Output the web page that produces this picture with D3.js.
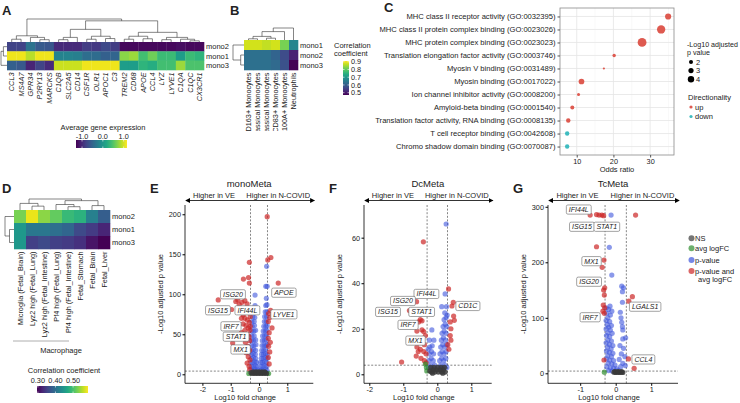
<!DOCTYPE html>
<html><head><meta charset="utf-8">
<script src="https://cdn.jsdelivr.net/npm/d3@7/dist/d3.min.js"></script>
<style>
body{margin:0;background:#fff;}
text{font-family:"Liberation Sans",Arial,sans-serif;fill:#222;}
</style></head><body><div class="canvas"></div>
<script>
// ---------- data ----------
// A: average gene expression heatmap
const genesA = ['CCL3','MS4A7','GPR34','P2RY13','MARCKS','C1QB','SLC2A5','CD14','CSF1R','OLR1','APOC1','C3','TREM2','CD68','APOE','CCL4','LYZ','LYVE1','C1QA','C1QC','CX3CR1'];
const rowsA = ['mono2','mono1','mono3'];
const exprMono2 = [-0.8,-0.8,-0.36,-0.6,-0.63,-1.0,-1.0,-1.0,-0.85,-0.88,-0.75,-0.85,-1.24,-1.24,-1.24,-1.24,-1.24,-1.24,-1.2,-1.24,-1.24];
const exprMono1 = [1.1,1.1,0.9,1.1,1.1,-0.19,-0.19,-0.24,-0.41,-0.43,-0.55,-0.5,0.72,0.79,0.42,0.62,0.38,0.38,0.06,0.38,0.3];
const exprMono3 = [-0.55,-0.62,-1.05,-0.8,-1.0,0.96,0.96,0.96,1.1,1.1,1.1,1.1,0.06,0.06,0.3,0.23,0.42,0.42,0.79,0.47,0.47];
const colTreeA = [1.0,
  [0.27, [0.12,'CCL3','MS4A7'], [0.2,'GPR34',[0.1,'P2RY13','MARCKS']]],
  [0.92,
    [0.55, [0.2,[0.1,'C1QB','SLC2A5'],'CD14'], [0.25,[0.12,'CSF1R','OLR1'],[0.15,'APOC1','C3']]],
    [0.42, [0.25,[0.12,'TREM2','CD68'],[0.14,'APOE','CCL4']], [0.2,[0.1,'LYZ','LYVE1'],[0.12,'C1QA',[0.05,'C1QC','CX3CR1']]]]]];
const rowTreeA = [1.0, [0.6,'mono2','mono1'], 'mono3'];
const ticksA = [-1.0, 0.0, 1.0];

// B: correlation with reference cell types
const cellTypesB = ['CD163+ Monocytes','Classical Monocytes','Non-classical Monocytes','HLA-DR+ CD83+ Monocytes','HLA-DR- S100A+ Monocytes','Neutrophils'];
const rowsB = ['mono1','mono2','mono3'];
const corrBmono1 = [0.88,0.88,0.87,0.88,0.82,0.67];
const corrBmono2 = [0.63,0.63,0.63,0.61,0.57,0.51];
const corrBmono3 = [0.63,0.63,0.63,0.62,0.58,0.47];
const colTreeB = [1.0, [0.7, [0.3,[0.1,'CD163+ Monocytes','Classical Monocytes'],[0.15,'Non-classical Monocytes','HLA-DR+ CD83+ Monocytes']],'HLA-DR- S100A+ Monocytes'], 'Neutrophils'];
const rowTreeB = [1.0, 'mono1', [0.3,'mono2','mono3']];
const ticksB = [0.5,0.6,0.7,0.8,0.9];

// C: GO enrichment
const goTerms = ['MHC class II receptor activity (GO:0032395)','MHC class II protein complex binding (GO:0023026)','MHC protein complex binding (GO:0023023)','Translation elongation factor activity (GO:0003746)','Myosin V binding (GO:0031489)','Myosin binding (GO:0017022)','Ion channel inhibitor activity (GO:0008200)','Amyloid-beta binding (GO:0001540)','Translation factor activity, RNA binding (GO:0008135)','T cell receptor binding (GO:0042608)','Chromo shadow domain binding (GO:0070087)'];
const oddsRatio = [34.9,33.0,27.8,20.2,17.4,11.3,10.5,8.8,7.7,7.4,7.4];
const negLogP = [3.8,5.6,6.0,1.5,0.5,3.4,1.2,2.0,2.4,2.3,2.3];
const direction = ['up','up','up','up','up','up','up','up','up','down','down'];
const oddsTicks = [10,20,30];
const sizeLegend = [2,3,4];

// D: correlation with fetal macrophages
const fetalTypes = ['Microglia (Fetal_Brain)','Lyz2 high (Fetal_Lung)','Lyz2 high (Fetal_Intestine)','Pf4 high (Fetal_Lung)','Pf4 high (Fetal_Intestine)','Fetal_Stomach','Fetal_Brain','Fetal_Liver'];
const rowsD = ['mono2','mono1','mono3'];
const corrDmono2 = [0.525,0.575,0.535,0.515,0.49,0.48,0.42,0.38];
const corrDmono1 = [0.45,0.41,0.41,0.40,0.39,0.36,0.345,0.325];
const corrDmono3 = [0.45,0.35,0.36,0.35,0.345,0.335,0.31,0.295];
const colTreeD = [1.0, [0.6,'Microglia (Fetal_Brain)',[0.35,'Lyz2 high (Fetal_Lung)','Lyz2 high (Fetal_Intestine)']],
  [0.85, [0.5,'Pf4 high (Fetal_Lung)',[0.3,'Pf4 high (Fetal_Intestine)','Fetal_Stomach']],[0.4,'Fetal_Brain','Fetal_Liver']]];
const rowTreeD = [1.0, 'mono2', [0.5,'mono1','mono3']];
const ticksD = [0.30,0.40,0.50];

// E-G: volcano plots  [log10 fold change, -log10 adjusted p]
const redE = [[0.29,197],[0.31,143],[0.42,146],[-0.34,140],[0.68,114],[-0.55,119],[-0.37,121],[-0.34,114],[-1.44,93],[-0.97,81],[-0.82,91],[-0.75,93],[-0.7,87],[-0.6,90],[-0.5,92],[-0.42,88],[-0.38,80],[-0.46,77],[-0.56,74],[-0.62,70],[-0.5,70],[-0.41,68],[-0.34,65],[-0.56,63],[-0.46,61],[-0.38,58],[-0.32,55],[-0.5,55],[-0.62,52],[-0.42,50],[-0.35,47],[-0.33,42],[-0.93,39],[-0.48,40],[-0.4,35],[-0.33,30],[-0.45,27],[-0.38,22],[-0.32,18],[-0.42,14],[-0.35,10],[-0.33,6],[0.34,76],[0.38,71],[0.33,66],[0.46,58],[0.36,52],[0.33,45],[0.4,40],[0.34,35],[0.38,28],[0.33,21],[0.36,13],[0.41,80],[-0.31,72],[-0.31,60]];
const blueE = [[-0.28,6],[-0.22,5],[-0.16,6],[-0.1,5],[-0.05,6],[-0.27,10],[-0.2,10],[-0.13,11],[-0.07,10],[-0.28,15],[-0.21,15],[-0.14,16],[-0.08,15],[-0.26,20],[-0.19,21],[-0.12,20],[-0.28,25],[-0.2,26],[-0.13,25],[-0.27,30],[-0.19,31],[-0.12,30],[-0.26,36],[-0.18,36],[-0.11,37],[-0.27,42],[-0.19,42],[-0.12,43],[-0.25,48],[-0.17,48],[-0.26,54],[-0.18,54],[-0.12,55],[-0.24,60],[-0.16,61],[-0.25,66],[-0.17,66],[-0.22,72],[-0.15,71],[-0.2,78],[-0.14,86],[-0.14,99],
  [0.04,5],[0.1,6],[0.16,5],[0.22,6],[0.28,5],[0.07,10],[0.14,10],[0.21,11],[0.28,10],[0.06,15],[0.12,15],[0.19,16],[0.26,15],[0.08,20],[0.15,20],[0.22,21],[0.29,20],[0.09,25],[0.16,25],[0.23,26],[0.29,25],[0.1,30],[0.17,30],[0.24,31],[0.11,36],[0.18,36],[0.25,36],[0.29,37],[0.12,42],[0.19,42],[0.26,43],[0.13,48],[0.2,48],[0.27,49],[0.15,54],[0.22,54],[0.28,55],[0.17,60],[0.24,60],[0.29,61],[0.19,66],[0.26,66],[0.2,72],[0.27,72],[0.22,78],[0.28,78],[0.24,86],[0.28,87],[0.26,95],[0.24,110],[0.29,110],[0.27,135]];
const grayE = [[-0.28,2],[-0.23,1],[-0.18,2],[-0.13,1],[-0.08,2],[-0.03,1],[0.02,2],[0.07,1],[0.12,2],[0.17,1],[0.22,2],[0.27,1],[-0.2,3],[-0.1,3],[0,3],[0.1,3],[0.2,3]];
const greenE = [[-0.36,1],[0.34,1]];
const labelsE = [['ISG20',-0.92,100],['ISG15',-1.45,80],['IFI44L',-0.41,80],['IRF7',-0.99,60],['STAT1',-0.81,47],['MX1',-0.65,31],['APOE',0.88,102],['LYVE1',0.88,75]];

const redF = [[-0.41,58.2],[-0.61,31.9],[-0.82,28],[-0.55,23],[-0.5,24],[-0.45,23.5],[-0.6,19],[-0.45,19.5],[-0.4,18.8],[-0.35,17],[-0.55,15],[-0.45,14],[-0.38,13],[-0.6,12],[-0.5,11],[-0.4,10],[-0.33,9],[-0.62,8],[-0.48,7],[-0.38,6],[-0.33,5],[-0.56,10],[-1.05,5.4],[0.33,37.5],[0.47,31.6],[0.43,30],[0.48,25.6],[0.5,23.7],[0.38,23],[0.4,20],[0.38,17],[0.4,15],[0.31,13],[0.34,11]];
const blueF = [[-0.26,3],[-0.2,4],[-0.14,3],[-0.08,4],[-0.25,6],[-0.18,7],[-0.12,6],[-0.24,9],[-0.17,10],[-0.11,9],[-0.22,12],[-0.15,12.5],[-0.23,15],[-0.1,15],[-0.16,19.5],[-0.27,11],
  [0.05,3],[0.1,4],[0.16,3],[0.22,4],[0.28,3],[0.07,6],[0.13,7],[0.19,6],[0.25,7],[0.08,9],[0.14,10],[0.2,9],[0.26,10],[0.1,12],[0.16,13],[0.22,12],[0.28,13],[0.12,15],[0.18,16],[0.24,15],[0.14,18],[0.2,19],[0.26,18],[0.17,21],[0.23,22],[0.28,21],[0.2,24],[0.26,25],[0.29,26],[0.22,27],[0.13,29.7],[0.27,29.7],[0.23,35.3],[0.26,66]];
const grayF = [[-0.22,1.5],[-0.17,1],[-0.12,2],[-0.07,1],[-0.02,2],[0.03,1],[0.08,2],[0.13,1],[0.18,2],[0.23,1],[-0.19,3],[-0.09,3],[0.01,3],[0.11,3],[0.21,3],[-0.14,0.5],[0.16,0.5]];
const greenF = [[-0.32,3],[-0.35,4.5],[-0.31,1.5]];
const labelsF = [['IFI44L',-0.32,35.3],['ISG20',-1.01,32.2],['ISG15',-1.45,27.4],['STAT1',-0.46,27.4],['CD1C',0.9,30],['IRF7',-0.86,21.7],['MX1',-0.64,14.8]];

const redG = [[-0.72,285],[-0.54,286],[-0.47,285],[-0.39,285],[-0.34,284],[0.56,285],[-0.54,228],[-0.33,204],[-0.38,191],[-0.31,154],[-0.34,150],[-0.32,141],[-0.35,123],[-0.31,118],[-0.36,112],[-0.32,108],[-0.33,24],[0.47,138],[0.37,130],[0.36,26],[0.52,9]];
const blueG = [[-0.13,285],[-0.18,227],[-0.11,177],[0.17,157],[0.22,154],[0.19,147],[0.19,128],[-0.16,121],[-0.11,112],
  [-0.27,118],[-0.2,115],[-0.25,108],[-0.15,105],[-0.22,100],[-0.27,95],[-0.17,93],[-0.24,88],[-0.12,86],[-0.2,83],[-0.27,80],[-0.15,78],[-0.22,73],[-0.1,72],[-0.26,68],[-0.17,66],[-0.22,60],[-0.12,58],[-0.27,55],[-0.18,52],[-0.08,50],[-0.23,47],[-0.13,44],[-0.26,40],[-0.18,38],[-0.08,36],[-0.22,32],[-0.12,30],[-0.26,26],[-0.17,24],[-0.06,23],[-0.21,18],[-0.11,17],[-0.02,15],[-0.25,12],[-0.15,10],[-0.06,9],[0.03,8],[-0.2,5],[-0.1,4],[0.0,4],[0.08,5],
  [0.13,110],[0.15,100],[0.17,92],[0.19,84],[0.2,78],[0.2,62],[0.28,64],[0.12,50],[0.22,45],[0.16,35],[0.26,30],[0.1,25],[0.2,18],[0.14,12],[0.27,14]];
const grayG = [[-0.05,2],[0,1.5],[0.05,2],[0.1,1.5],[0.15,2],[0.2,1.5],[-0.02,3],[0.08,3],[0.17,3]];
const greenG = [[-0.32,2]];
const labelsG = [['IFI44L',-1.04,295],['ISG15',-0.95,264],['STAT1',-0.25,264],['MX1',-0.68,202],['ISG20',-0.75,165],['IRF7',-0.72,101],['LGALS1',0.83,120],['CCL4',0.78,25]];
const volcanoLegend = ['NS','avg logFC','p-value','p-value and avg logFC'];

// ---------- drawing ----------
const svg = d3.select('.canvas').append('svg')
    .attr('width',740).attr('height',403)
    .style('background','#fff');
const defs = svg.append('defs');

const letter = (t,x,y) => svg.append('text').attr('x',x).attr('y',y)
    .attr('font-size',13).attr('font-weight','bold').attr('fill','#000').text(t);

// dendrogram with elbow links; tree = [height, left, right], leaf = string
function dendro(g, tree, leafPos, hPos, vertical){
  const seg = (x1,y1,x2,y2) => g.append('line').attr('x1',x1).attr('y1',y1).attr('x2',x2).attr('y2',y2)
      .attr('stroke','#333').attr('stroke-width',0.6);
  function rec(n){
    if (typeof n === 'string') return {p: leafPos(n), h: 0};
    const a = rec(n[1]), b = rec(n[2]);
    const hp = hPos(n[0]);
    if (vertical){
      seg(a.p,hPos(a.h),a.p,hp); seg(b.p,hPos(b.h),b.p,hp); seg(a.p,hp,b.p,hp);
    } else {
      seg(hPos(a.h),a.p,hp,a.p); seg(hPos(b.h),b.p,hp,b.p); seg(hp,a.p,hp,b.p);
    }
    return {p:(a.p+b.p)/2, h:n[0]};
  }
  rec(tree);
}

function heatmap(c){
  const g = svg.append('g');
  const x = d3.scaleBand().domain(c.cols).range([c.x0,c.x1]);
  const y = d3.scaleBand().domain(c.rows).range([c.y0,c.y1]);
  c.rows.forEach((r,i) => {
    g.selectAll(null).data(c.values[i]).enter().append('rect')
      .attr('x',(d,j) => x(c.cols[j])).attr('y',y(r))
      .attr('width',x.bandwidth()+0.3).attr('height',y.bandwidth()+0.3)
      .attr('fill',d => c.color(d));
  });
  g.selectAll(null).data(c.rows).enter().append('text')
    .attr('x',c.x1+2).attr('y',d => y(d)+y.bandwidth()/2).attr('dy','0.35em')
    .attr('font-size',7.5).text(d => d);
  let lg = g.append('g');
  if (c.clip){
    defs.append('clipPath').attr('id',c.clip.id).append('rect')
      .attr('x',c.x0-20).attr('y',c.y1).attr('width',c.x1-c.x0+40).attr('height',c.clip.bottom-c.y1);
    lg.attr('clip-path',`url(#${c.clip.id})`);
  }
  lg.selectAll(null).data(c.cols).enter().append('text')
    .attr('transform',d => `translate(${x(d)+x.bandwidth()/2+2.6},${c.y1+2.5}) rotate(-90)`)
    .attr('text-anchor','end').attr('font-size',7.3)
    .attr('font-style',c.italic ? 'italic' : null).text(d => d);
  dendro(g, c.colTree, d => x(d)+x.bandwidth()/2, d3.scaleLinear([0,1],[c.y0,c.colTop]), true);
  dendro(g, c.rowTree, d => y(d)+y.bandwidth()/2, d3.scaleLinear([0,1],[c.x0,c.rowLeft]), false);
  return {x,y};
}

// colour bar with white tick marks
function colorbar(id, color, ticks, x0, y0, w, h, horizontal){
  const dom = color.domain();
  const grad = defs.append('linearGradient').attr('id',id)
    .attr('x1','0').attr('y1',horizontal ? '0' : '1').attr('x2',horizontal ? '1' : '0').attr('y2','0');
  d3.range(0,1.0001,0.1).forEach(t => grad.append('stop').attr('offset',t)
    .attr('stop-color',color(dom[0]+t*(dom[1]-dom[0]))));
  svg.append('rect').attr('x',x0).attr('y',y0).attr('width',w).attr('height',h).attr('fill',`url(#${id})`);
  const s = horizontal ? d3.scaleLinear(dom,[x0,x0+w]) : d3.scaleLinear(dom,[y0+h,y0]);
  ticks.forEach(t => {
    const p = s(t);
    if (horizontal){
      svg.append('line').attr('x1',p).attr('x2',p).attr('y1',y0).attr('y2',y0+1.5).attr('stroke','#fff').attr('stroke-width',0.6);
      svg.append('line').attr('x1',p).attr('x2',p).attr('y1',y0+h-1.5).attr('y2',y0+h).attr('stroke','#fff').attr('stroke-width',0.6);
    } else {
      svg.append('line').attr('y1',p).attr('y2',p).attr('x1',x0).attr('x2',x0+1.5).attr('stroke','#fff').attr('stroke-width',0.6);
      svg.append('line').attr('y1',p).attr('y2',p).attr('x1',x0+w-1.5).attr('x2',x0+w).attr('stroke','#fff').attr('stroke-width',0.6);
    }
  });
  return s;
}

// ----- panel A -----
letter('A',2,15);
const colorA = d3.scaleSequential(d3.interpolateViridis).domain([-1.29,1.16]);
heatmap({cols:genesA, rows:rowsA, values:[exprMono2,exprMono1,exprMono3], color:colorA,
  x0:7, x1:204, y0:42, y1:70, colTree:colTreeA, colTop:19, rowTree:rowTreeA, rowLeft:1, italic:true});
svg.append('text').attr('x',103).attr('y',130).attr('text-anchor','middle').attr('font-size',7.5).text('Average gene expression');
const sA = colorbar('gA', colorA, ticksA, 76, 140, 51, 8, true);
svg.selectAll(null).data(ticksA).enter().append('text').attr('x',d => sA(d)).attr('y',138.5)
  .attr('text-anchor','middle').attr('font-size',7.3).text(d => d.toFixed(1));

// ----- panel B -----
letter('B',230,15);
const colorB = d3.scaleSequential(d3.interpolateViridis).domain([0.47,0.91]);
heatmap({cols:cellTypesB, rows:rowsB, values:[corrBmono1,corrBmono2,corrBmono3], color:colorB,
  x0:244, x1:298, y0:40, y1:70, colTree:colTreeB, colTop:28, rowTree:rowTreeB, rowLeft:233,
  clip:{id:'clipB', bottom:131}});
svg.append('text').attr('x',334).attr('y',48).attr('font-size',7.5).text('Correlation');
svg.append('text').attr('x',334).attr('y',56).attr('font-size',7.5).text('coefficient');
const sB = colorbar('gB', colorB, ticksB, 343, 61, 6, 34, false);
svg.selectAll(null).data(ticksB).enter().append('text').attr('x',351).attr('y',d => sB(d)).attr('dy','0.35em')
  .attr('font-size',7.3).text(d => d.toFixed(1));

// ----- panel C -----
letter('C',384,12);
const cL = 560, cR = 674, cT = 8, cB = 155;
const xC = d3.scaleLinear([5.45,36.5],[cL,cR]);
const yC = d3.scalePoint().domain(goTerms).range([cT,cB]).padding(0.65);
const rC = d3.scaleLinear([0,6],[0.8,4.4]);
const dirColor = {up:'#de5a50', down:'#3fbcc0'};
const gC = svg.append('g');
[15,25,35].forEach(v => gC.append('line').attr('x1',xC(v)).attr('x2',xC(v)).attr('y1',cT).attr('y2',cB).attr('stroke','#f2f2f2').attr('stroke-width',0.5));
oddsTicks.forEach(v => gC.append('line').attr('x1',xC(v)).attr('x2',xC(v)).attr('y1',cT).attr('y2',cB).attr('stroke','#e4e4e4').attr('stroke-width',0.8));
goTerms.forEach(t => gC.append('line').attr('x1',cL).attr('x2',cR).attr('y1',yC(t)).attr('y2',yC(t)).attr('stroke','#e4e4e4').attr('stroke-width',0.8));
gC.selectAll(null).data(goTerms).enter().append('circle')
  .attr('cx',(d,i) => xC(oddsRatio[i])).attr('cy',d => yC(d)).attr('r',(d,i) => rC(negLogP[i]))
  .attr('fill',(d,i) => dirColor[direction[i]]);
gC.append('rect').attr('x',cL).attr('y',cT).attr('width',cR-cL).attr('height',cB-cT).attr('fill','none').attr('stroke','#8a8a8a').attr('stroke-width',0.8);
gC.append('g').attr('transform',`translate(${cL},0)`)
  .call(d3.axisLeft(yC).tickSize(2.5).tickPadding(2))
  .call(g => g.select('.domain').remove())
  .call(g => g.selectAll('text').attr('font-size',7.6).attr('fill','#222'))
  .call(g => g.selectAll('line').attr('stroke','#555'));
gC.append('g').attr('transform',`translate(0,${cB})`)
  .call(d3.axisBottom(xC).tickValues(oddsTicks).tickSize(2.5).tickPadding(1.5))
  .call(g => g.select('.domain').remove())
  .call(g => g.selectAll('text').attr('font-size',7.3).attr('fill','#333'))
  .call(g => g.selectAll('line').attr('stroke','#555'));
svg.append('text').attr('x',(cL+cR)/2).attr('y',172).attr('text-anchor','middle').attr('font-size',7.5).text('Odds ratio');
svg.append('text').attr('x',687).attr('y',47).attr('font-size',7.1).text('-Log10 adjusted');
svg.append('text').attr('x',687).attr('y',55).attr('font-size',7.1).text('p value');
sizeLegend.forEach((v,i) => {
  svg.append('circle').attr('cx',691).attr('cy',62+i*8.6).attr('r',rC(v)).attr('fill','#000');
  svg.append('text').attr('x',696).attr('y',62+i*8.6).attr('dy','0.35em').attr('font-size',7.5).text(v);
});
svg.append('text').attr('x',688).attr('y',100).attr('font-size',7.5).text('Directionality');
['up','down'].forEach((d,i) => {
  svg.append('circle').attr('cx',691).attr('cy',107+i*9.5).attr('r',1.6).attr('fill',dirColor[d]);
  svg.append('text').attr('x',695).attr('y',107+i*9.5).attr('dy','0.35em').attr('font-size',7.5).text(d);
});

// ----- panel D -----
letter('D',2,193);
const colorD = d3.scaleSequential(d3.interpolateViridis).domain([0.295,0.585]);
heatmap({cols:fetalTypes, rows:rowsD, values:[corrDmono2,corrDmono1,corrDmono3], color:colorD,
  x0:14, x1:110, y0:210, y1:249, colTree:colTreeD, colTop:199, rowTree:rowTreeD, rowLeft:5});
svg.append('line').attr('x1',13).attr('x2',69).attr('y1',341).attr('y2',341).attr('stroke','#999').attr('stroke-width',0.8);
svg.append('text').attr('x',61).attr('y',353).attr('text-anchor','middle').attr('font-size',7.5).text('Macrophage');
svg.append('text').attr('x',64).attr('y',373).attr('text-anchor','middle').attr('font-size',7.5).text('Correlation coefficient');
const sD = colorbar('gD', colorD, ticksD, 37, 386, 51, 7, true);
svg.selectAll(null).data(ticksD).enter().append('text').attr('x',d => sD(d)).attr('y',383)
  .attr('text-anchor','middle').attr('font-size',7.3).text(d => d.toFixed(2));

// ----- volcano plots -----
const volColors = {NS:'#3a3a3a', 'avg logFC':'#2f8f2f', 'p-value':'#3d55dc', 'p-value and avg logFC':'#cc2626'};
defs.append('marker').attr('id','arr').attr('viewBox','0 0 6 6').attr('refX',5).attr('refY',3)
  .attr('markerWidth',5).attr('markerHeight',5).attr('markerUnits','userSpaceOnUse')
  .attr('orient','auto-start-reverse').append('path').attr('d','M0,0L6,3L0,6Z').attr('fill','#000');

function volcano(c){
  const top = 205, bot = 383.3;
  const x = d3.scaleLinear(c.xDomain,[c.left,c.right]);
  const y = d3.scaleLinear(c.yDomain,[bot,top]);
  const g = svg.append('g');
  letter(c.letter, c.left-35, 193);
  g.append('text').attr('x',(c.left+c.right)/2).attr('y',187).attr('text-anchor','middle').attr('font-size',9.5).text(c.title);
  g.append('line').attr('x1',c.left+1).attr('x2',c.right+1).attr('y1',200.5).attr('y2',200.5)
    .attr('stroke','#000').attr('stroke-width',0.8).attr('marker-start','url(#arr)').attr('marker-end','url(#arr)');
  const w = c.right-c.left;
  g.append('text').attr('x',c.left+w*0.25-3).attr('y',198).attr('text-anchor','middle').attr('font-size',7.5).text('Higher in VE');
  g.append('text').attr('x',c.left+w*0.75-3).attr('y',198).attr('text-anchor','middle').attr('font-size',7.5).text('Higher in N-COVID');
  // thresholds
  [-0.3,0.3].forEach(v => g.append('line').attr('x1',x(v)).attr('x2',x(v)).attr('y1',top).attr('y2',bot)
    .attr('stroke','#333').attr('stroke-width',0.6).attr('stroke-dasharray','2,1.6'));
  g.append('line').attr('x1',c.left).attr('x2',c.right).attr('y1',y(4)).attr('y2',y(4))
    .attr('stroke','#333').attr('stroke-width',0.6).attr('stroke-dasharray','2,1.6');
  const pts = (data,key,op) => g.selectAll(null).data(data).enter().append('circle')
    .attr('cx',d => x(d[0])).attr('cy',d => y(d[1])).attr('r',2.6)
    .attr('fill',volColors[key]).attr('fill-opacity',op);
  pts(c.blue,'p-value',0.6);
  pts(c.red,'p-value and avg logFC',0.7);
  pts(c.green,'avg logFC',0.7);
  pts(c.gray,'NS',0.85);
  // axes
  g.append('g').attr('transform',`translate(${c.left},0)`)
    .call(d3.axisLeft(y).tickValues(c.yTicks).tickFormat(d => String(d)).tickSize(2.5).tickPadding(1.5))
    .call(a => a.select('.domain').attr('d',`M0,${top}V${bot}`).attr('stroke','#000').attr('stroke-width',0.8))
    .call(a => a.selectAll('text').attr('font-size',7.3).attr('fill','#333'));
  g.append('g').attr('transform',`translate(0,${bot})`)
    .call(d3.axisBottom(x).tickValues(c.xTicks).tickFormat(d => String(d)).tickSize(2.5).tickPadding(1.5))
    .call(a => a.select('.domain').attr('d',`M${c.left},0H${c.right}`).attr('stroke','#000').attr('stroke-width',0.8))
    .call(a => a.selectAll('text').attr('font-size',7.3).attr('fill','#333'));
  g.append('text').attr('x',(c.left+c.right)/2-4).attr('y',400).attr('text-anchor','middle').attr('font-size',7.5).text('Log10 fold change');
  g.append('text').attr('transform',`translate(${c.left-22},294) rotate(-90)`).attr('text-anchor','middle')
    .attr('font-size',7.5).text('-Log10 adjusted p value');
  // gene labels
  c.labels.forEach(l => {
    const lg = g.append('g').attr('transform',`translate(${x(l[1])},${y(l[2])})`);
    const t = lg.append('text').attr('text-anchor','middle').attr('dy','0.35em')
      .attr('font-size',7).attr('font-style','italic').text(l[0]);
    const tw = t.node().getComputedTextLength();
    lg.insert('rect','text').attr('x',-tw/2-2.5).attr('y',-4.6).attr('width',tw+5).attr('height',9.2)
      .attr('rx',1.5).attr('fill','#fff').attr('stroke','#666').attr('stroke-width',0.6);
  });
}

volcano({letter:'E', title:'monoMeta', left:185, right:313.3, xDomain:[-2.615,1.919], yDomain:[-11.25,211.6],
  xTicks:[-2,-1,0,1], yTicks:[0,50,100,150,200], red:redE, blue:blueE, gray:grayE, green:greenE, labels:labelsE});
volcano({letter:'F', title:'DcMeta', left:364, right:491.7, xDomain:[-2.156,1.6], yDomain:[-3.95,74.35],
  xTicks:[-2,-1,0,1], yTicks:[0,20,40,60], red:redF, blue:blueF, gray:grayF, green:greenF, labels:labelsF});
volcano({letter:'G', title:'TcMeta', left:548, right:678, xDomain:[-1.907,1.755], yDomain:[-18,303.2],
  xTicks:[-1,0,1], yTicks:[0,100,200,300], red:redG, blue:blueG, gray:grayG, green:greenG, labels:labelsG});

// volcano legend
const lgV = svg.append('g');
[238.3,248.3,260,271].forEach((yy,i) => {
  const key = volcanoLegend[i];
  lgV.append('circle').attr('cx',691.5).attr('cy',yy).attr('r',3).attr('fill',volColors[key]).attr('fill-opacity',0.7);
});
lgV.append('text').attr('x',695).attr('y',238.3).attr('dy','0.35em').attr('font-size',7.5).text('NS');
lgV.append('text').attr('x',695).attr('y',248.3).attr('dy','0.35em').attr('font-size',7.5).text('avg logFC');
lgV.append('text').attr('x',695).attr('y',260).attr('dy','0.35em').attr('font-size',7.5).text('p-value');
lgV.append('text').attr('x',695).attr('y',271).attr('dy','0.35em').attr('font-size',7.5).text('p-value and');
lgV.append('text').attr('x',698).attr('y',279).attr('dy','0.35em').attr('font-size',7.5).text('avg logFC');
</script>
</body></html>
